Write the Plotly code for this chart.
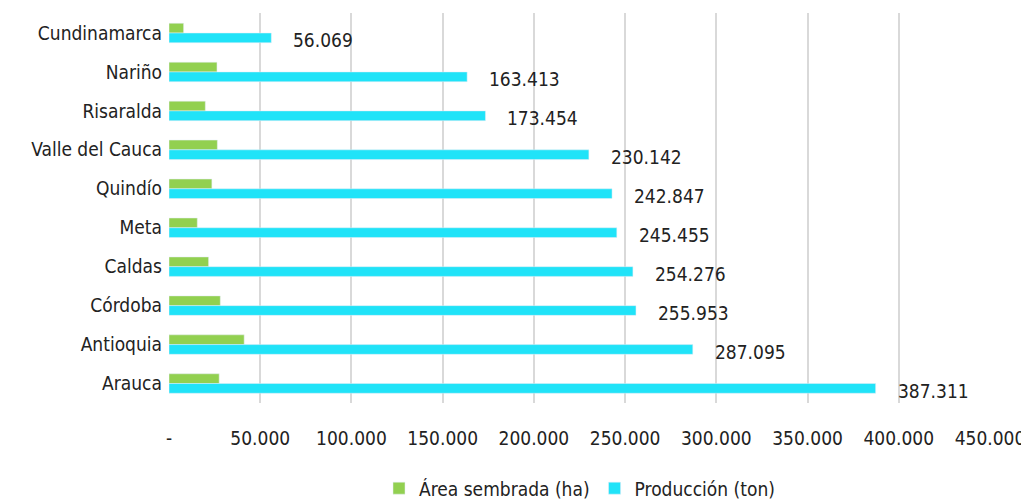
import plotly.graph_objects as go

departamentos = ["Cundinamarca", "Nariño", "Risaralda", "Valle del Cauca", "Quindío",
                 "Meta", "Caldas", "Córdoba", "Antioquia", "Arauca"]
area_sembrada = [8000, 26300, 19900, 26500, 23500, 15500, 21700, 28100, 41200, 27500]
produccion = [56069, 163413, 173454, 230142, 242847, 245455, 254276, 255953, 287095, 387311]
tick_vals = [0, 50000, 100000, 150000, 200000, 250000, 300000, 350000, 400000, 450000]
tick_text = ["-", "50.000", "100.000", "150.000", "200.000", "250.000", "300.000",
             "350.000", "400.000", "450.000"]

FONT = "Liberation Sans Narrow, Arial Narrow, DejaVu Sans Condensed, sans-serif"

def fmt(v):
    return f"{v:,}".replace(",", ".")

fig = go.Figure()
fig.add_trace(go.Bar(y=departamentos, x=area_sembrada, orientation="h",
                     name="Área sembrada (ha)", marker_color="#92D050"))
fig.add_trace(go.Bar(y=departamentos, x=produccion, orientation="h",
                     name="Producción (ton)", marker_color="#20E3F8"))

for d, v in zip(departamentos, produccion):
    fig.add_annotation(x=v, y=d, text=fmt(v), showarrow=False, xanchor="left",
                       xshift=20, yshift=-7, font=dict(size=19, color="#222222", family=FONT))

fig.update_layout(
    width=1029, height=504,
    margin=dict(l=161, r=47, t=5, b=99),
    paper_bgcolor="white", plot_bgcolor="white",
    barmode="group", bargap=0.5, bargroupgap=0,
    font=dict(family=FONT, size=19, color="#222222"),
    xaxis=dict(range=[0, 450000], tickvals=tick_vals, ticktext=tick_text,
               showgrid=True, gridcolor="#D9D9D9", gridwidth=2, zeroline=False,
               showline=False, ticks="", ticklabelstandoff=22, automargin=False),
    yaxis=dict(autorange="reversed", showgrid=False, ticks="", showline=False,
               ticklabelstandoff=6, automargin=False),
    legend=dict(orientation="h", x=0.5, xanchor="center", y=-0.17, yanchor="top",
                font=dict(size=19, family=FONT), itemwidth=30, traceorder="normal"),
)

fig.write_html("out.html")
